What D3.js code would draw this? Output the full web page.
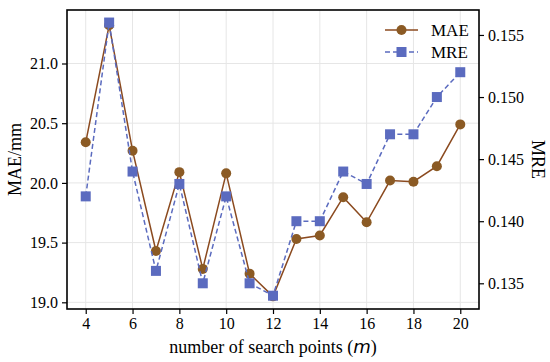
<!DOCTYPE html>
<html><head><meta charset="utf-8">
<script src="https://cdn.jsdelivr.net/npm/d3@7"></script>
<style>body{margin:0;background:#fff}svg{display:block}</style>
</head><body>
<script>
const xValues = [4,5,6,7,8,9,10,11,12,13,14,15,16,17,18,19,20];
const maeValues = [20.34,21.32,20.27,19.43,20.09,19.28,20.08,19.24,19.05,19.53,19.56,19.88,19.67,20.02,20.01,20.14,20.49];
const mreValues = [0.142,0.156,0.144,0.136,0.143,0.135,0.142,0.135,0.134,0.140,0.140,0.144,0.143,0.147,0.147,0.150,0.152];
const xTicks = [4,6,8,10,12,14,16,18,20];
const maeTicks = [19.0,19.5,20.0,20.5,21.0];
const mreTicks = [0.135,0.140,0.145,0.150,0.155];

const W=550,H=362;
const m={left:67,top:10,right:479,bottom:309};
const maeColor="#8b5a24", maeLine="#8b4a1f", mreColor="#5b6bbf";
const font="'Liberation Serif','Times New Roman',serif";

const svg=d3.select("body").append("svg").attr("width",W).attr("height",H);
const x=d3.scaleLinear().domain([3.2,20.8]).range([m.left,m.right]);
const yL=d3.scaleLinear().domain([18.944,21.448]).range([m.bottom,m.top]);
const yR=d3.scaleLinear().domain([0.13293,0.15701]).range([m.bottom,m.top]);

// grid
const g=svg.append("g");
g.selectAll(".vg").data(xTicks).join("line").attr("x1",d=>x(d)).attr("x2",d=>x(d))
 .attr("y1",m.top).attr("y2",m.bottom).attr("stroke","#e6e6e6").attr("stroke-width",1);
g.selectAll(".hg").data(maeTicks).join("line").attr("y1",d=>yL(d)).attr("y2",d=>yL(d))
 .attr("x1",m.left).attr("x2",m.right).attr("stroke","#e6e6e6").attr("stroke-width",1);

// axes
function styleAxis(sel){
  sel.selectAll("text").attr("font-family",font).attr("font-size",16).attr("fill","#000");
  sel.selectAll(".tick line").attr("stroke","#000").attr("stroke-width",1.2);
  sel.select(".domain").remove();
}
svg.append("g").attr("transform",`translate(0,${m.bottom})`)
 .call(d3.axisBottom(x).tickValues(xTicks).tickSize(5).tickPadding(4).tickFormat(d3.format("d"))).call(styleAxis);
svg.append("g").attr("transform",`translate(${m.left},0)`)
 .call(d3.axisLeft(yL).tickValues(maeTicks).tickSize(5).tickPadding(4).tickFormat(d3.format(".1f"))).call(styleAxis);
svg.append("g").attr("transform",`translate(${m.right},0)`)
 .call(d3.axisRight(yR).tickValues(mreTicks).tickSize(5).tickPadding(4).tickFormat(d3.format(".3f"))).call(styleAxis);

// frame
svg.append("rect").attr("x",m.left).attr("y",m.top).attr("width",m.right-m.left).attr("height",m.bottom-m.top)
 .attr("fill","none").attr("stroke","#000").attr("stroke-width",1.6);

// MAE series
const lineL=d3.line().x((d,i)=>x(xValues[i])).y(d=>yL(d));
svg.append("path").datum(maeValues).attr("d",lineL).attr("fill","none").attr("stroke",maeLine).attr("stroke-width",1.5);
svg.append("g").selectAll("circle").data(maeValues).join("circle")
 .attr("cx",(d,i)=>x(xValues[i])).attr("cy",d=>yL(d)).attr("r",5).attr("fill",maeColor);

// MRE series
const lineR=d3.line().x((d,i)=>x(xValues[i])).y(d=>yR(d));
svg.append("path").datum(mreValues).attr("d",lineR).attr("fill","none").attr("stroke",mreColor)
 .attr("stroke-width",1.5).attr("stroke-dasharray","5,3");
svg.append("g").selectAll("rect").data(mreValues).join("rect")
 .attr("x",(d,i)=>x(xValues[i])-5).attr("y",d=>yR(d)-5).attr("width",10).attr("height",10).attr("fill",mreColor);

// legend
const lg=svg.append("g");
lg.append("line").attr("x1",385).attr("x2",418).attr("y1",30).attr("y2",30).attr("stroke",maeLine).attr("stroke-width",1.5);
lg.append("circle").attr("cx",401.5).attr("cy",30).attr("r",5).attr("fill",maeColor);
lg.append("text").attr("x",431).attr("y",36).text("MAE").attr("font-family",font).attr("font-size",17);
lg.append("line").attr("x1",385).attr("x2",418).attr("y1",52).attr("y2",52).attr("stroke",mreColor).attr("stroke-width",1.5).attr("stroke-dasharray","5,3");
lg.append("rect").attr("x",396.5).attr("y",47).attr("width",10).attr("height",10).attr("fill",mreColor);
lg.append("text").attr("x",431).attr("y",58).text("MRE").attr("font-family",font).attr("font-size",17);

// axis labels
const xl=svg.append("text").attr("x",(m.left+m.right)/2).attr("y",353).attr("text-anchor","middle")
 .attr("font-family",font).attr("font-size",18);
xl.append("tspan").text("number of search points (");
xl.append("tspan").text("m").attr("font-family","'DejaVu Sans',sans-serif").attr("font-style","italic");
xl.append("tspan").text(")");
svg.append("text").attr("transform",`translate(21,${(m.top+m.bottom)/2}) rotate(-90)`).attr("text-anchor","middle")
 .attr("font-family",font).attr("font-size",18).text("MAE/mm");
svg.append("text").attr("transform",`translate(532,${(m.top+m.bottom)/2}) rotate(90)`).attr("text-anchor","middle")
 .attr("font-family",font).attr("font-size",18).text("MRE");
</script>
</body></html>
